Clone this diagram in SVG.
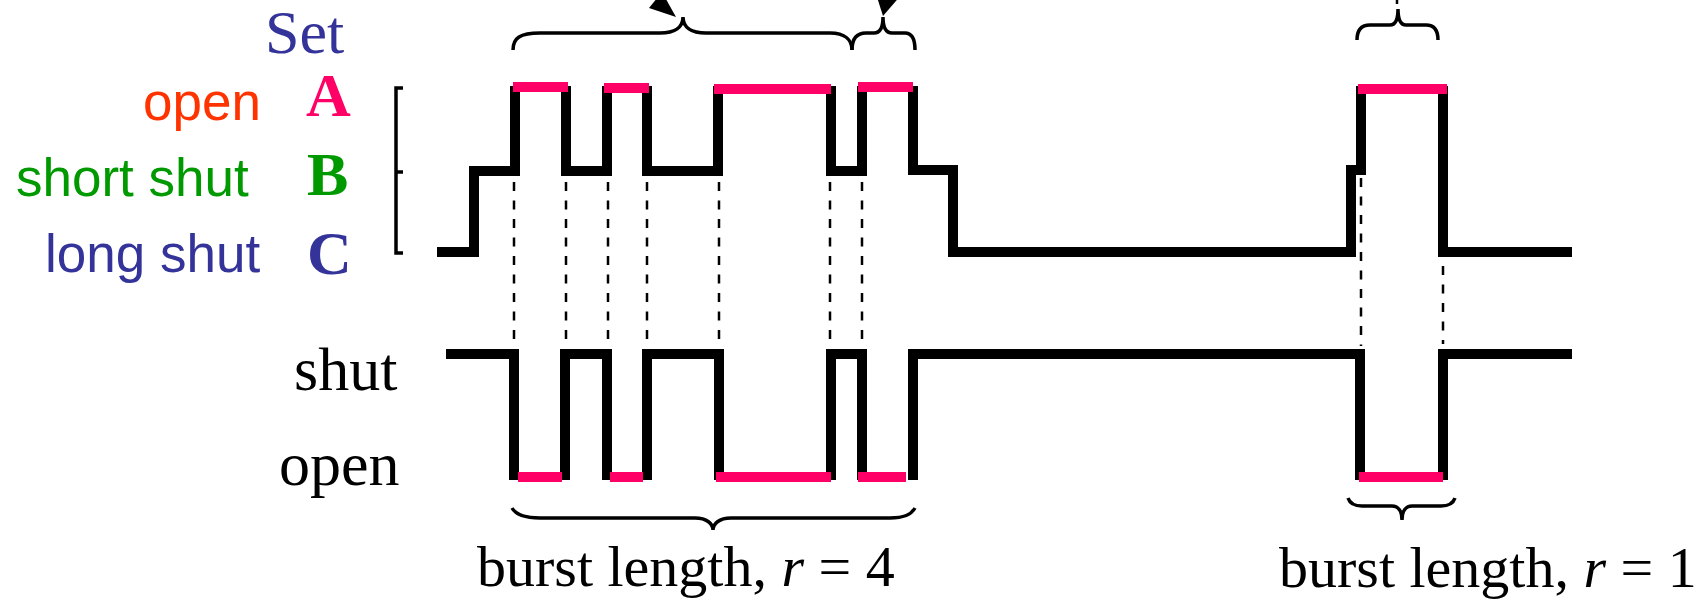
<svg xmlns="http://www.w3.org/2000/svg" width="1702" height="602" viewBox="0 0 1702 602">
<style>
.trace{fill:none;stroke:#000;stroke-width:10;stroke-linejoin:miter;stroke-linecap:butt}
.pink{stroke:#FF0066;stroke-width:10;stroke-linecap:butt}
.dash{stroke:#000;stroke-width:2.5;stroke-dasharray:9 9.5;fill:none}
.brace{fill:none;stroke:#000;stroke-width:3.5;stroke-linecap:butt}
.sans{font-family:"Liberation Sans",Arial,sans-serif;font-size:53px}
.serif{font-family:"Liberation Serif","Times New Roman",serif}
.big{font-family:"Liberation Serif","Times New Roman",serif;font-weight:bold;font-size:62px}
</style>
<rect width="1702" height="602" fill="#fff"/>
<g id="labels">
<text class="serif" x="265" y="53" font-size="62" fill="#333399">Set</text>
<text class="sans" x="143" y="120" fill="#FF3300">open</text>
<text class="sans" x="16" y="196" fill="#009900">short shut</text>
<text class="sans" x="45" y="272" fill="#333399">long shut</text>
<text class="big" x="306" y="116" fill="#FF0066">A</text>
<text class="big" x="307" y="195" fill="#009900">B</text>
<text class="big" x="307" y="274" fill="#333399">C</text>
<text class="serif" x="294" y="390" font-size="62" fill="#000">shut</text>
<text class="serif" x="279" y="485" font-size="62" fill="#000">open</text>
</g>
<g id="bracket">
<path d="M403,88 H396 V253 H403 M396,172 H403" fill="none" stroke="#000" stroke-width="3.5"/>
</g>
<g id="upper-trace">
<path class="trace" d="M437,252 H474 V171 H515 V86 M566,86 V171 H607 V86 M647,86 V171 H718 V86 M831,86 V171 H862 V86 M913,86 V170 H953 V252 H1351 V170 H1361 V86 M1443,86 V252 H1572"/>
<line class="pink" x1="513" y1="87" x2="568" y2="87"/>
<line class="pink" x1="604" y1="88" x2="649" y2="88"/>
<line class="pink" x1="714" y1="89" x2="831" y2="89"/>
<line class="pink" x1="858" y1="87" x2="913" y2="87"/>
<line class="pink" x1="1358" y1="89" x2="1447" y2="89"/>
</g>
<g id="lower-trace">
<path class="trace" d="M446,354 H514 V480 M565,480 V354 H607 V480 M647,480 V354 H719 V480 M831,480 V354 H862 V480 M913,480 V354 H1360 V480 M1443,480 V354 H1572"/>
<line class="pink" x1="518" y1="477" x2="562" y2="477"/>
<line class="pink" x1="610" y1="477" x2="643" y2="477"/>
<line class="pink" x1="716" y1="477" x2="831" y2="477"/>
<line class="pink" x1="858" y1="477" x2="906" y2="477"/>
<line class="pink" x1="1359" y1="477" x2="1443" y2="477"/>
</g>
<g id="connectors">
<line class="dash" x1="514" y1="182" x2="514" y2="346"/>
<line class="dash" x1="566" y1="182" x2="566" y2="346"/>
<line class="dash" x1="608" y1="182" x2="608" y2="346"/>
<line class="dash" x1="647" y1="182" x2="647" y2="346"/>
<line class="dash" x1="719" y1="182" x2="719" y2="346"/>
<line class="dash" x1="830" y1="182" x2="830" y2="346"/>
<line class="dash" x1="862" y1="182" x2="862" y2="346"/>
<line class="dash" x1="1361" y1="178" x2="1361" y2="346"/>
<line class="dash" x1="1443" y1="266" x2="1443" y2="344"/>
<polygon points="649,8 676,17 662,-8" fill="#000"/>
<polygon points="876,-6 883,16 902,-6" fill="#000"/>
<line x1="1397" y1="0" x2="1397" y2="4" stroke="#000" stroke-width="2.5"/>
</g>
<g id="braces">
<path class="brace" d="M513,50 C513,38 520,33 540,33 L660,33 C675,33 683,27 683,17 C683,27 691,33 706,33 L830,33 C845,33 852,40 852,50"/>
<path class="brace" d="M852,50 C852,40 856,33 866,33 L874,33 C880,33 883,28 883,17 C883,28 886,33 892,33 L905,33 C912,33 915,40 915,50"/>
<path class="brace" d="M1357,40 C1357,30 1361,25 1370,25 L1390,25 C1395,25 1398,20 1398,9 C1398,20 1401,25 1406,25 L1426,25 C1434,25 1438,30 1438,40"/>
<path class="brace" d="M512,508 C516,515 524,518 540,518 L695,518 C707,518 713,524 713,530 C713,524 719,518 731,518 L890,518 C904,518 911,515 915,508"/>
<path class="brace" d="M1348,498 C1350,504 1355,506 1362,506 L1392,506 C1398,506 1402,511 1402,520 C1402,511 1406,506 1412,506 L1441,506 C1448,506 1453,504 1455,498"/>
</g>
<g id="burst-labels">
<text class="serif" x="477" y="586" font-size="58" fill="#000">burst length, <tspan font-style="italic">r</tspan> = 4</text>
<text class="serif" x="1279" y="587" font-size="58" fill="#000">burst length, <tspan font-style="italic">r</tspan> = 1</text>
</g>
</svg>
